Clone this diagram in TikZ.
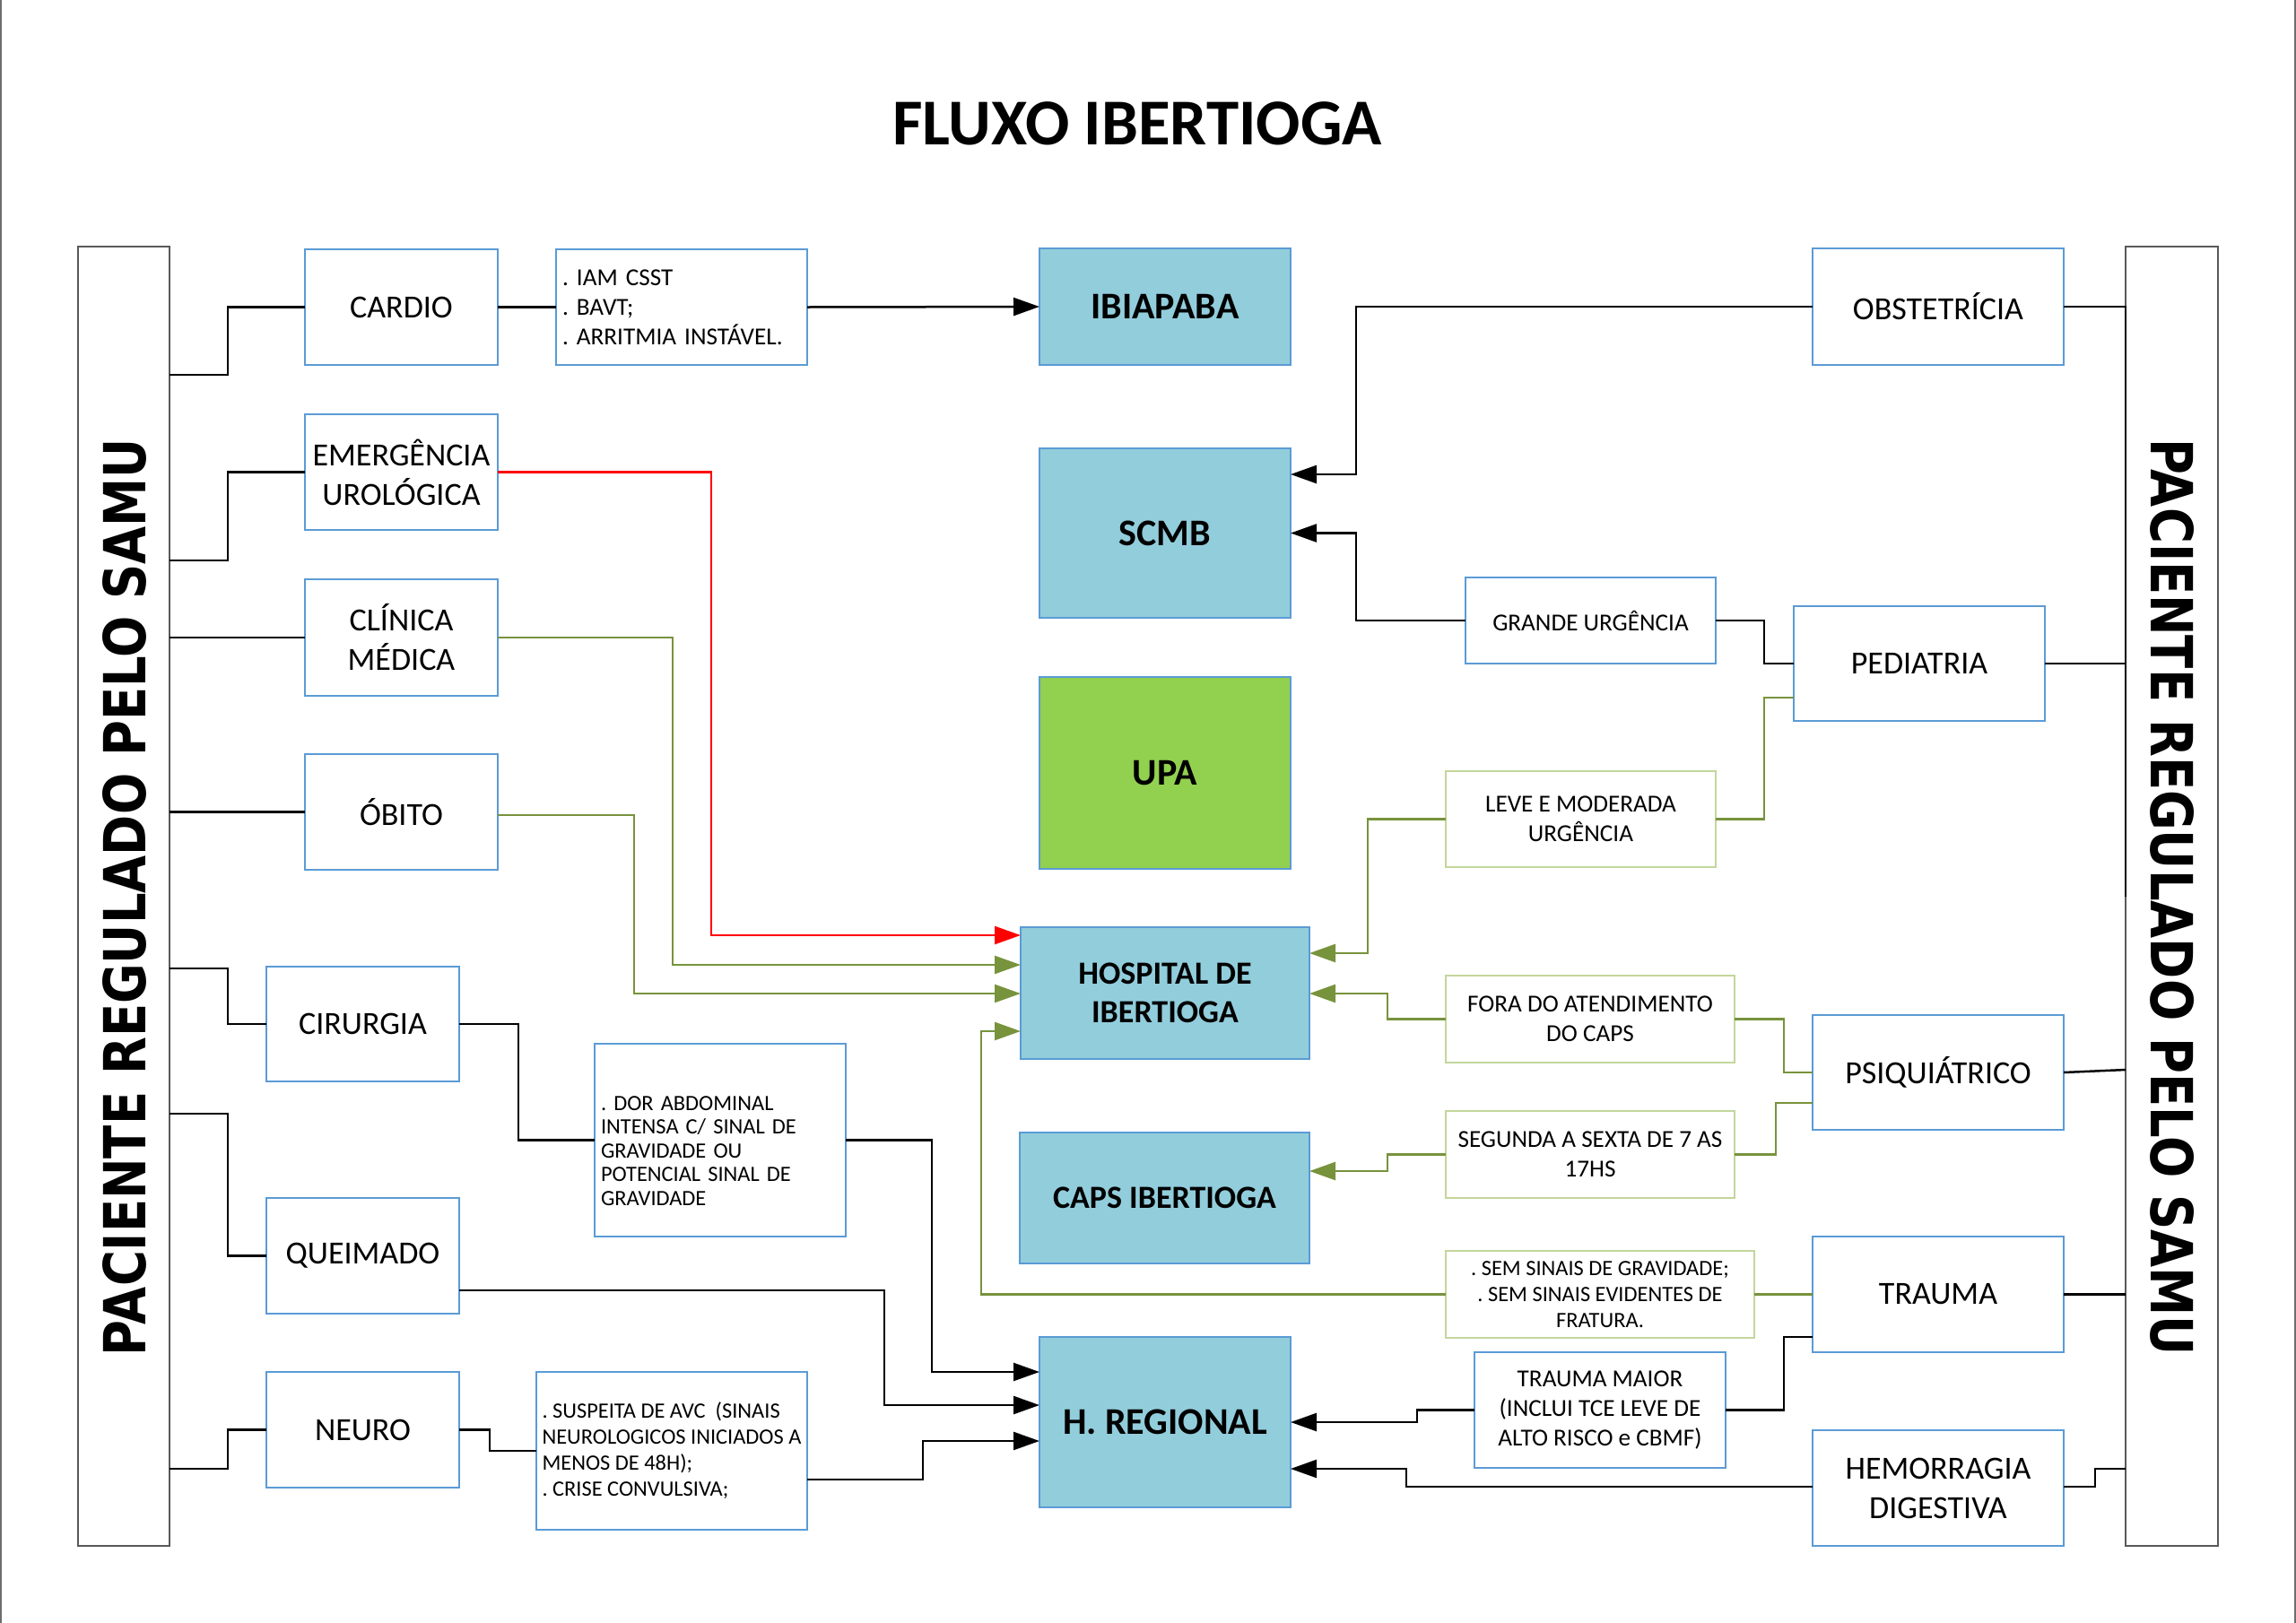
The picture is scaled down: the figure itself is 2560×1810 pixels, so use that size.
\documentclass[tikz,border=0pt]{standalone}
\usepackage{fontspec}
\usepackage{graphicx}
\setmainfont{Carlito}
\newfontfamily\vertfont{DejaVu Sans}
\usetikzlibrary{arrows.meta}
\definecolor{fillblue}{RGB}{146,205,220}
\definecolor{upagreen}{RGB}{146,208,80}
\definecolor{bordblue}{RGB}{91,155,213}
\definecolor{bordolive}{RGB}{195,214,155}
\definecolor{linegreen}{RGB}{119,147,60}
\definecolor{tallgray}{RGB}{89,89,89}
\definecolor{pagegray}{RGB}{110,110,110}
\newcommand\fBig{\fontsize{18pt}{22pt}\selectfont}
\newcommand\fMid{\fontsize{13.6pt}{16.5pt}\selectfont}
\newcommand\fDor{\fontsize{12.2pt}{13.2pt}\selectfont}
\newcommand\fSmall{\fontsize{12.2pt}{14.5pt}\selectfont}
\tikzset{
  every node/.style={inner sep=0pt, outer sep=0pt},
  sz/.style 2 args={minimum width={#1*0.5pt}, minimum height={#2*0.5pt}},
  tallbox/.style={draw=tallgray, line width=0.75pt, fill=white},
  wbox/.style={draw=bordblue, line width=0.75pt, fill=white, align=center, font=\fBig},
  midfont/.style={font=\fMid},
  critbox/.style={draw=bordblue, line width=0.75pt, fill=white, align=left, font=\fMid},
  obox/.style={draw=bordolive, line width=0.75pt, fill=white, align=center, font=\fMid},
  hbox/.style={draw=bordblue, line width=0.75pt, fill=fillblue, align=center, font=\bfseries\fontsize{21pt}{25pt}\selectfont},
  hsmall/.style={font=\bfseries\fontsize{18pt}{21.5pt}\selectfont},
  conn/.style={line width=1.25pt, draw=black},
  gconn/.style={line width=1.25pt, draw=linegreen},
  rconn/.style={line width=1.25pt, draw=red},
  arr/.style={-{Triangle[length=14.5pt,width=10pt]}},
}
\begin{document}
\frenchspacing
\begin{tikzpicture}[x=0.5pt,y=-0.5pt]
\useasboundingbox (0,0) rectangle (2560,1810);
\draw[pagegray, line width=1pt] (1,0) -- (1,1810);
\draw[pagegray, line width=1pt] (2558.5,0) -- (2558.5,1810);

\node (title) at (1268,138) {\bfseries\fontsize{36.5pt}{40pt}\selectfont FLUXO IBERTIOGA};

% tall side boxes
\node (L) at (138,999.5) [tallbox, sz={102}{1449}] {};
\node (R) at (2421.5,999.5) [tallbox, sz={103}{1449}] {};
\node (ltext) at (138.5,1000.5) [rotate=90] {\resizebox{511.5pt}{24pt}{\vertfont\bfseries PACIENTE REGULADO PELO SAMU}};
\node (rtext) at (2422.5,1000.5) [rotate=-90] {\resizebox{511.5pt}{24pt}{\vertfont\bfseries PACIENTE REGULADO PELO SAMU}};

% left column
\node (cardio) at (447.5,342.5) [wbox, sz={215}{129}] {CARDIO};
\node (iam) at (760,342.5) [critbox, sz={280}{129}, text width=133pt] {. IAM CSST\\. BAVT;\\. ARRITMIA INSTÁVEL.};
\node (emerg) at (447.5,526.5) [wbox, sz={215}{129}] {EMERGÊNCIA\\UROLÓGICA};
\node (clin) at (447.5,711) [wbox, sz={215}{130}] {CLÍNICA\\MÉDICA};
\node (obito) at (447.5,905.5) [wbox, sz={215}{129}] {ÓBITO};
\node (cir) at (404.5,1142) [wbox, sz={215}{128}] {CIRURGIA};
\node (queim) at (404.5,1400.5) [wbox, sz={215}{129}] {QUEIMADO};
\node (neuro) at (404.5,1594.5) [wbox, sz={215}{129}] {NEURO};
\node (dor) at (803,1271.5) [critbox, sz={280}{215}] {};
\node (dortext) at ([yshift=-6pt]dor.center) [align=left, text width=133pt, font=\fDor] {. DOR ABDOMINAL\\INTENSA C/ SINAL DE\\GRAVIDADE OU\\POTENCIAL SINAL DE\\GRAVIDADE};
\node (avc) at (749,1618) [critbox, sz={302}{176}, font=\fSmall] {. SUSPEITA DE AVC~ (SINAIS\\NEUROLOGICOS INICIADOS A\\MENOS DE 48H);\\. CRISE CONVULSIVA;};

% centre column
\node (ibia) at (1299,342) [hbox, sz={280}{130}] {IBIAPABA};
\node (scmb) at (1299,594.5) [hbox, sz={280}{189}] {SCMB};
\node (upa) at (1299,862) [hbox, fill=upagreen, sz={280}{214}] {UPA};
\node (hosp) at (1299,1107.5) [hbox, hsmall, sz={322}{147}] {HOSPITAL DE\\IBERTIOGA};
\node (caps) at (1298.5,1336) [hbox, hsmall, sz={323}{146}] {CAPS IBERTIOGA};
\node (hreg) at (1299,1586) [hbox, sz={280}{190}] {H. REGIONAL};

% right column
\node (obst) at (2161,342) [wbox, sz={280}{130}] {OBSTETRÍCIA};
\node (grande) at (1773.5,692) [wbox, midfont, sz={279}{96}] {GRANDE URGÊNCIA};
\node (ped) at (2140,740) [wbox, sz={280}{128}] {PEDIATRIA};
\node (leve) at (1762.5,913.5) [obox, sz={301}{107}] {LEVE E MODERADA\\URGÊNCIA};
\node (fora) at (1773,1136.5) [obox, sz={322}{97}] {FORA DO ATENDIMENTO\\DO CAPS};
\node (psiq) at (2161,1196) [wbox, sz={280}{128}] {PSIQUIÁTRICO};
\node (seg) at (1773,1287.5) [obox, sz={322}{97}] {SEGUNDA A SEXTA DE 7 AS\\17HS};
\node (sem) at (1784,1443.5) [obox, font=\fSmall, sz={344}{97}] {. SEM SINAIS DE GRAVIDADE;\\. SEM SINAIS EVIDENTES DE\\FRATURA.};
\node (trauma) at (2161,1443.5) [wbox, sz={280}{129}] {TRAUMA};
\node (tmaior) at (1784,1572.5) [wbox, midfont, sz={280}{129}] {TRAUMA MAIOR\\(INCLUI TCE LEVE DE\\ALTO RISCO e CBMF)};
\node (hem) at (2161,1659.5) [wbox, sz={280}{129}] {HEMORRAGIA\\DIGESTIVA};

% left connectors
\draw[conn] (L.east |- 0,418) -| (254,342.5) -- (cardio.west);
\draw[conn] (cardio.east) -- (iam.west);
\draw[conn, arr] (iam.east) -- (ibia.west);
\draw[conn] (L.east |- 0,625) -| (254,526.5) -- (emerg.west);
\draw[rconn, arr] (emerg.east) -| (793,1043) -- (hosp.west |- 0,1043);
\draw[conn] (L.east |- clin.west) -- (clin.west);
\draw[gconn, arr] (clin.east) -| (750,1076) -- (hosp.west |- 0,1076);
\draw[conn] (L.east |- obito.west) -- (obito.west);
\draw[gconn, arr] (obito.east |- 0,909) -| (707,1108) -- (hosp.west |- 0,1108);
\draw[conn] (L.east |- 0,1080) -| (254,1142) -- (cir.west);
\draw[conn] (cir.east) -| (578,1271.5) -- (dor.west);
\draw[conn, arr] (dor.east) -| (1039,1530) -- (hreg.west |- 0,1530);
\draw[conn] (L.east |- 0,1242) -| (254,1400.5) -- (queim.west);
\draw[conn, arr] (queim.east |- 0,1439) -| (986,1567) -- (hreg.west |- 0,1567);
\draw[conn] (L.east |- 0,1638) -| (254,1594.5) -- (neuro.west);
\draw[conn] (neuro.east) -| (546,1618) -- (avc.west);
\draw[conn, arr] (avc.east |- 0,1650) -| (1029,1607) -- (hreg.west |- 0,1607);

% right connectors
\coordinate (rjoin) at (2370,1000);
\draw[conn] (obst.east) -- (R.west |- obst.east) -- (R.west |- rjoin);
\draw[conn, arr] (obst.west) -| (1512,529) -- (scmb.east |- 0,529);
\draw[conn, arr] (grande.west) -| (1512,594.5) -- (scmb.east);
\draw[conn] (ped.west) -| (1967,692) -- (grande.east);
\draw[conn] (ped.east) -- (R.west |- ped.east);
\draw[gconn] (ped.west |- 0,778) -| (1967,913.5) -- (leve.east);
\draw[gconn, arr] (leve.west) -| (1525,1063) -- (hosp.east |- 0,1063);
\draw[gconn, arr] (fora.west) -| (1547,1108) -- (hosp.east |- 0,1108);
\draw[gconn] (psiq.west) -| (1989,1136.5) -- (fora.east);
\draw[conn] (psiq.east) -- (R.west |- 0,1193);
\draw[gconn] (psiq.west |- 0,1230) -| (1980,1287.5) -- (seg.east);
\draw[gconn, arr] (seg.west) -| (1547,1306) -- (caps.east |- 0,1306);
\draw[gconn] (trauma.west) -- (sem.east);
\draw[gconn, arr] (sem.west) -| (1094,1150) -- (hosp.west |- 0,1150);
\draw[conn] (trauma.east) -- (R.west |- trauma.east);
\draw[conn] (trauma.west |- 0,1491) -| (1989,1572.5) -- (tmaior.east);
\draw[conn, arr] (tmaior.west) -| (1580,1586) -- (hreg.east);
\draw[conn, arr] (hem.west |- 0,1658) -| (1568,1638) -- (hreg.east |- 0,1638);
\draw[conn] (R.west |- 0,1638) -| (2336,1658) -- (hem.east |- 0,1658);
\end{tikzpicture}
\end{document}
